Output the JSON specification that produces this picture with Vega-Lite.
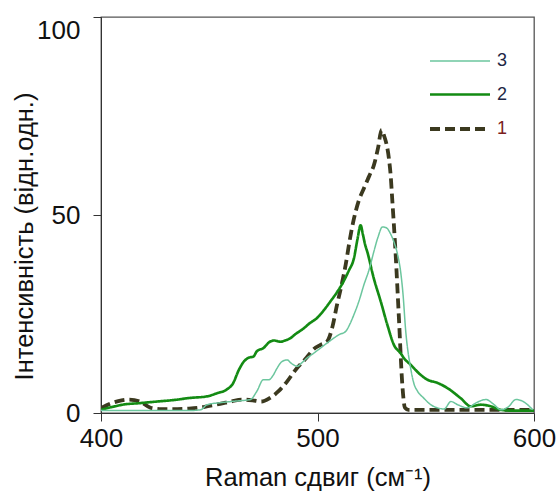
{
  "$schema": "https://vega.github.io/schema/vega-lite/v6.json",
  "width": 433,
  "height": 396,
  "autosize": {"type": "none"},
  "padding": {"left": 101, "top": 17, "right": 24, "bottom": 78},
  "config": {
    "font": "Liberation Sans",
    "view": {"stroke": "#555555", "strokeWidth": 1.3},
    "axis": {
      "grid": false,
      "domainColor": "#333333",
      "tickColor": "#333333",
      "tickSize": 8,
      "labelFontSize": 26,
      "labelColor": "#111111",
      "labelFlush": false,
      "titleFontSize": 25.5,
      "titleFontWeight": "normal",
      "titleColor": "#111111"
    }
  },
  "data": {
    "values": [
      {"series": "1", "shift": 400, "intensity": 1.2},
      {"series": "1", "shift": 405, "intensity": 2.5},
      {"series": "1", "shift": 408, "intensity": 3.0},
      {"series": "1", "shift": 413, "intensity": 3.4},
      {"series": "1", "shift": 418, "intensity": 2.9},
      {"series": "1", "shift": 423, "intensity": 1.3},
      {"series": "1", "shift": 428, "intensity": 1.0},
      {"series": "1", "shift": 433, "intensity": 1.0},
      {"series": "1", "shift": 440, "intensity": 1.1},
      {"series": "1", "shift": 445, "intensity": 1.3},
      {"series": "1", "shift": 450, "intensity": 1.8},
      {"series": "1", "shift": 455, "intensity": 2.3},
      {"series": "1", "shift": 460, "intensity": 2.9},
      {"series": "1", "shift": 465, "intensity": 3.4},
      {"series": "1", "shift": 470, "intensity": 3.2},
      {"series": "1", "shift": 474, "intensity": 2.9},
      {"series": "1", "shift": 478, "intensity": 3.8},
      {"series": "1", "shift": 482, "intensity": 5.5},
      {"series": "1", "shift": 486, "intensity": 8},
      {"series": "1", "shift": 490, "intensity": 11},
      {"series": "1", "shift": 495, "intensity": 14},
      {"series": "1", "shift": 498, "intensity": 16},
      {"series": "1", "shift": 501.4, "intensity": 17.2},
      {"series": "1", "shift": 504.5, "intensity": 18.1},
      {"series": "1", "shift": 507, "intensity": 22},
      {"series": "1", "shift": 509, "intensity": 27.3},
      {"series": "1", "shift": 511, "intensity": 32},
      {"series": "1", "shift": 513, "intensity": 37.4},
      {"series": "1", "shift": 515, "intensity": 44},
      {"series": "1", "shift": 516.8, "intensity": 49},
      {"series": "1", "shift": 519, "intensity": 53.5},
      {"series": "1", "shift": 521.4, "intensity": 56.7},
      {"series": "1", "shift": 524, "intensity": 60},
      {"series": "1", "shift": 526, "intensity": 62.5},
      {"series": "1", "shift": 528, "intensity": 67},
      {"series": "1", "shift": 529.6, "intensity": 71.5},
      {"series": "1", "shift": 530.7, "intensity": 70.1},
      {"series": "1", "shift": 533, "intensity": 64.2},
      {"series": "1", "shift": 533.8, "intensity": 60},
      {"series": "1", "shift": 534.6, "intensity": 53.3},
      {"series": "1", "shift": 535.3, "intensity": 47.4},
      {"series": "1", "shift": 536, "intensity": 41},
      {"series": "1", "shift": 537.6, "intensity": 24},
      {"series": "1", "shift": 539.2, "intensity": 7},
      {"series": "1", "shift": 540.4, "intensity": 1.3},
      {"series": "1", "shift": 542, "intensity": 0.8},
      {"series": "1", "shift": 560, "intensity": 0.8},
      {"series": "1", "shift": 580, "intensity": 0.8},
      {"series": "1", "shift": 600, "intensity": 0.8},

      {"series": "2", "shift": 400, "intensity": 0.8},
      {"series": "2", "shift": 405, "intensity": 1.5},
      {"series": "2", "shift": 410, "intensity": 2.1},
      {"series": "2", "shift": 418, "intensity": 2.5},
      {"series": "2", "shift": 426, "intensity": 2.9},
      {"series": "2", "shift": 434, "intensity": 3.3},
      {"series": "2", "shift": 441, "intensity": 3.8},
      {"series": "2", "shift": 449, "intensity": 4.2},
      {"series": "2", "shift": 453.6, "intensity": 5.0},
      {"series": "2", "shift": 458, "intensity": 5.9},
      {"series": "2", "shift": 461, "intensity": 7.5},
      {"series": "2", "shift": 463.6, "intensity": 10.8},
      {"series": "2", "shift": 466, "intensity": 13.0},
      {"series": "2", "shift": 468, "intensity": 13.9},
      {"series": "2", "shift": 470.5, "intensity": 14.3},
      {"series": "2", "shift": 472, "intensity": 15.6},
      {"series": "2", "shift": 475, "intensity": 16.4},
      {"series": "2", "shift": 478, "intensity": 18.0},
      {"series": "2", "shift": 480, "intensity": 18.3},
      {"series": "2", "shift": 483, "intensity": 18.0},
      {"series": "2", "shift": 485, "intensity": 18.3},
      {"series": "2", "shift": 487.5, "intensity": 18.9},
      {"series": "2", "shift": 490, "intensity": 20},
      {"series": "2", "shift": 493.7, "intensity": 21.4},
      {"series": "2", "shift": 496, "intensity": 22.5},
      {"series": "2", "shift": 499.8, "intensity": 24},
      {"series": "2", "shift": 503, "intensity": 26},
      {"series": "2", "shift": 506, "intensity": 28.2},
      {"series": "2", "shift": 509, "intensity": 30.5},
      {"series": "2", "shift": 512, "intensity": 33.2},
      {"series": "2", "shift": 514.5, "intensity": 36},
      {"series": "2", "shift": 516.8, "intensity": 39},
      {"series": "2", "shift": 518.5, "intensity": 44},
      {"series": "2", "shift": 519.9, "intensity": 47.4},
      {"series": "2", "shift": 521, "intensity": 45},
      {"series": "2", "shift": 522, "intensity": 42.5},
      {"series": "2", "shift": 523, "intensity": 40.7},
      {"series": "2", "shift": 526, "intensity": 34},
      {"series": "2", "shift": 529.2, "intensity": 28.2},
      {"series": "2", "shift": 532.3, "intensity": 22.2},
      {"series": "2", "shift": 535.3, "intensity": 17.2},
      {"series": "2", "shift": 538.4, "intensity": 15.1},
      {"series": "2", "shift": 540, "intensity": 13.8},
      {"series": "2", "shift": 543, "intensity": 12.2},
      {"series": "2", "shift": 547.7, "intensity": 9.6},
      {"series": "2", "shift": 550.8, "intensity": 8.4},
      {"series": "2", "shift": 555.4, "intensity": 7.6},
      {"series": "2", "shift": 560, "intensity": 6.3},
      {"series": "2", "shift": 566, "intensity": 3.8},
      {"series": "2", "shift": 570.8, "intensity": 1.7},
      {"series": "2", "shift": 575.5, "intensity": 2.1},
      {"series": "2", "shift": 580, "intensity": 1.7},
      {"series": "2", "shift": 584.7, "intensity": 0.8},
      {"series": "2", "shift": 590, "intensity": 0.6},
      {"series": "2", "shift": 600, "intensity": 0.6},

      {"series": "3", "shift": 400, "intensity": 0.6},
      {"series": "3", "shift": 420, "intensity": 0.6},
      {"series": "3", "shift": 440, "intensity": 0.6},
      {"series": "3", "shift": 446, "intensity": 0.8},
      {"series": "3", "shift": 449, "intensity": 2.1},
      {"series": "3", "shift": 455, "intensity": 2.6},
      {"series": "3", "shift": 462, "intensity": 3.0},
      {"series": "3", "shift": 469, "intensity": 3.4},
      {"series": "3", "shift": 472, "intensity": 5.5},
      {"series": "3", "shift": 475, "intensity": 8.4},
      {"series": "3", "shift": 477.5, "intensity": 8.4},
      {"series": "3", "shift": 479.5, "intensity": 9.5},
      {"series": "3", "shift": 481.3, "intensity": 11.3},
      {"series": "3", "shift": 483.6, "intensity": 13.0},
      {"series": "3", "shift": 486, "intensity": 13.4},
      {"series": "3", "shift": 488, "intensity": 12.5},
      {"series": "3", "shift": 490.6, "intensity": 11.8},
      {"series": "3", "shift": 493, "intensity": 12.8},
      {"series": "3", "shift": 495.2, "intensity": 13.9},
      {"series": "3", "shift": 498, "intensity": 15},
      {"series": "3", "shift": 501.4, "intensity": 16.4},
      {"series": "3", "shift": 504, "intensity": 17.5},
      {"series": "3", "shift": 507.5, "intensity": 18.9},
      {"series": "3", "shift": 510, "intensity": 19.8},
      {"series": "3", "shift": 513, "intensity": 20.6},
      {"series": "3", "shift": 515, "intensity": 22.5},
      {"series": "3", "shift": 516.8, "intensity": 24.8},
      {"series": "3", "shift": 519, "intensity": 28},
      {"series": "3", "shift": 521.4, "intensity": 32.3},
      {"series": "3", "shift": 524, "intensity": 36.5},
      {"series": "3", "shift": 526, "intensity": 40.7},
      {"series": "3", "shift": 528, "intensity": 44.5},
      {"series": "3", "shift": 530, "intensity": 47},
      {"series": "3", "shift": 532, "intensity": 46.7},
      {"series": "3", "shift": 533.5, "intensity": 45.5},
      {"series": "3", "shift": 535.3, "intensity": 43.2},
      {"series": "3", "shift": 537, "intensity": 40},
      {"series": "3", "shift": 538.4, "intensity": 35.7},
      {"series": "3", "shift": 539.5, "intensity": 30},
      {"series": "3", "shift": 540.7, "intensity": 21},
      {"series": "3", "shift": 543, "intensity": 11.4},
      {"series": "3", "shift": 544.5, "intensity": 7.5},
      {"series": "3", "shift": 546.2, "intensity": 5.5},
      {"series": "3", "shift": 549, "intensity": 3.8},
      {"series": "3", "shift": 552.3, "intensity": 2.1},
      {"series": "3", "shift": 555.4, "intensity": 1.3},
      {"series": "3", "shift": 558.5, "intensity": 1.0},
      {"series": "3", "shift": 561.6, "intensity": 2.9},
      {"series": "3", "shift": 564.7, "intensity": 2.1},
      {"series": "3", "shift": 569.3, "intensity": 1.3},
      {"series": "3", "shift": 573, "intensity": 2.5},
      {"series": "3", "shift": 577.8, "intensity": 3.4},
      {"series": "3", "shift": 581.6, "intensity": 2.1},
      {"series": "3", "shift": 584.7, "intensity": 0.8},
      {"series": "3", "shift": 588, "intensity": 1.5},
      {"series": "3", "shift": 591.7, "intensity": 3.4},
      {"series": "3", "shift": 595, "intensity": 2.9},
      {"series": "3", "shift": 597, "intensity": 2.1},
      {"series": "3", "shift": 599.4, "intensity": 0.8}
    ]
  },
  "mark": {"type": "line", "interpolate": "monotone", "clip": true},
  "encoding": {
    "x": {
      "field": "shift",
      "type": "quantitative",
      "scale": {"domain": [400, 600], "nice": false, "zero": false},
      "axis": {
        "values": [400, 500, 600],
        "title": "Raman сдвиг (см⁻¹)",
        "labelPadding": 4,
        "titleBaseline": "alphabetic",
        "titleY": 72
      }
    },
    "y": {
      "field": "intensity",
      "type": "quantitative",
      "scale": {"domain": [0, 100], "nice": false},
      "axis": {
        "values": [0, 50, 100],
        "title": "Інтенсивність (відн.одн.)",
        "labelPadding": 13,
        "labelBaseline": {"condition": {"test": "datum.value == 100", "value": "top"}, "value": "middle"},
        "titleX": -64,
        "titleY": 219
      }
    },
    "color": {
      "field": "series",
      "type": "nominal",
      "scale": {"domain": ["3", "2", "1"], "range": ["#6cc69e", "#138b13", "#3b391f"]},
      "legend": {
        "title": null,
        "orient": "none",
        "legendX": 347,
        "legendY": 33,
        "symbolType": "M-3,0L3,0",
        "symbolSize": 400,
        "labelFontSize": 18,
        "labelOffset": 25,
        "labelColor": {"expr": "datum.label == '1' ? '#7b1d1d' : '#1e2745'"},
        "rowPadding": 13,
        "padding": 0
      }
    },
    "strokeWidth": {
      "field": "series",
      "type": "nominal",
      "scale": {"domain": ["3", "2", "1"], "range": [1.5, 3.8, 3.5]}
    },
    "strokeDash": {
      "field": "series",
      "type": "nominal",
      "scale": {"domain": ["3", "2", "1"], "range": [[1, 0], [1, 0], [10, 5]]}
    }
  }
}
